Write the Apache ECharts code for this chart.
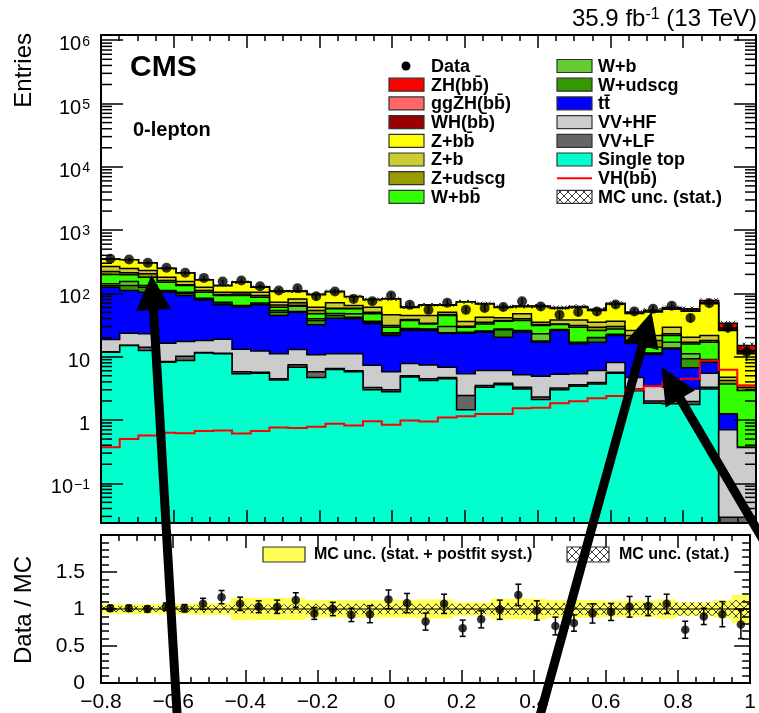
<!DOCTYPE html>
<html>
<head>
<meta charset="utf-8">
<script src="https://cdn.jsdelivr.net/npm/echarts@6/dist/echarts.min.js"></script>
<style>
  html, body { margin: 0; padding: 0; background: #fff; }
  #chart { width: 759px; height: 713px; }
</style>
</head>
<body>
<div id="chart"></div>
<script>
// ---- binning of the discriminant ----
const xMin = -0.8, xMax = 1.0, nBins = 35;
const binWidth = (xMax - xMin) / nBins;
const binEdges = Array.from({ length: nBins + 1 }, (_, i) => xMin + i * binWidth);
const binCenters = binEdges.slice(0, nBins).map(e => e + binWidth / 2);

// ---- expected yields per bin (stacked from bottom to top) ----
const singleTop = [11.8, 15.0, 12.5, 8.2, 8.7, 11.5, 11.1, 5.4, 5.5, 4.3, 6.8, 4.7, 6.3, 5.8, 3.0, 2.8, 4.8, 4.2, 4.5, 1.45, 3.3, 3.6, 3.1, 2.1, 3.0, 3.4, 3.7, 5.5, 2.9, 1.84, 1.8, 1.76, 3.1, 0, 0];
const vvLF = [0.2, 0.2, 1.6, 0.2, 1.5, 0.2, 0.2, 0.4, 0.2, 0.2, 0.7, 1.1, 0.2, 0.2, 0.25, 0.2, 0.2, 0.3, 0.2, 0.99, 0.2, 0.2, 0.2, 0.2, 0.2, 0.2, 0.2, 0.2, 0.2, 0.16, 0.2, 0.2, 0.2, 0.029, 0.029];
const vvHF = [6.7, 8.3, 8.9, 7.9, 7.2, 6.3, 7.6, 7.3, 6.6, 6.6, 5.5, 4.9, 4.6, 5.1, 4.05, 2.8, 2.8, 2.9, 2.1, 2.96, 2.55, 2.25, 1.9, 2.6, 2.1, 1.8, 2.15, 2.4, 1.6, 1.4, 1.3, 1.14, 2.2, 0.67, 0.34];
const ttbar = [106, 87.5, 81, 87.7, 75.3, 61, 47.1, 47.9, 53.7, 33.7, 37.5, 21.2, 29.5, 28.6, 25.8, 15.8, 18.1, 18.5, 16.5, 18.1, 18.35, 14.25, 19.2, 12, 20.6, 10.6, 10.85, 13.5, 11.5, 7.4, 10, 3.6, 2.7, 0.55, 0];
const wUdscg = [8, 22, 21, 5, 6.9, 2, 4.5, 2, 1.6, 5.7, 1.3, 5.4, 4.2, 2.4, 1.6, 1.2, 0.9, 0.9, 0.7, 0.4, 0.6, 6.3, 1, 0.8, 0.5, 0.4, 3, 0.4, 0.3, 0.4, 0.4, 2.55, 0.5, 0, 0];
const wB = [10, 21, 8, 2, 4.4, 3, 2, 1.4, 2.9, 3.2, 11, 2.4, 3.3, 5.5, 1.6, 1.1, 1.1, 0.5, 6, 0.5, 0.5, 0.7, 0.5, 5.4, 0.4, 0.5, 0.3, 0.6, 0.4, 0.2, 3.2, 1.85, 0.3, 0, 0];
const wBB = [56, 43, 47, 39, 29, 20, 20.2, 28.3, 16.5, 6.8, 1.6, 7.9, 9, 9.5, 11.3, 5.3, 9.4, 5.7, 14.8, 4.8, 7.5, 9, 11.4, 8, 5.4, 12.3, 5.7, 4.9, 1.1, 2.7, 4.7, 4.8, 7.9, 2.47, 2.55];
const zUdscg = [23, 15, 24, 10, 4, 7, 3.3, 5.3, 5.7, 5, 7.1, 6.1, 1.4, 1.4, 2.9, 1.9, 1.4, 0.7, 1.6, 1.1, 2, 1, 2.4, 1.1, 0.8, 1.9, 3.3, 2.5, 3.6, 3.9, 1.4, 1.1, 1.1, 0.48, 0.34];
const zB = [44, 35, 26, 20, 17, 14, 8, 6, 11.3, 7, 10.5, 6.8, 12.5, 5.9, 10, 14.8, 6.1, 11.1, 4.1, 5.7, 7, 3.8, 7.9, 2.8, 5.2, 7.1, 5.8, 6.3, 4.3, 3.6, 6.2, 3.3, 3.6, 0.54, 0.24];
const zBB = [81.6, 92.6, 73.6, 66.6, 55.6, 38.6, 28.6, 45.6, 21.6, 35.1, 25.6, 35.1, 35.5, 24.1, 19, 35.6, 15.2, 20.2, 14.5, 37, 26, 18.9, 13.9, 26.5, 19.8, 21.8, 18.8, 31.3, 22.1, 29.4, 26.8, 32.2, 46.9, 21.2, 7.6];
const whBB = [0.09, 0.11, 0.13, 0.14, 0.15, 0.15, 0.16, 0.14, 0.15, 0.18, 0.17, 0.18, 0.20, 0.19, 0.22, 0.19, 0.22, 0.22, 0.25, 0.26, 0.29, 0.29, 0.36, 0.36, 0.42, 0.45, 0.51, 0.55, 0.69, 0.78, 0.91, 1.03, 2.0, 1.8, 0.9];
const ggZhBB = [0.04, 0.06, 0.07, 0.08, 0.07, 0.08, 0.08, 0.07, 0.08, 0.09, 0.09, 0.09, 0.10, 0.10, 0.12, 0.10, 0.12, 0.11, 0.13, 0.14, 0.15, 0.15, 0.18, 0.19, 0.22, 0.24, 0.26, 0.29, 0.36, 0.41, 0.47, 0.54, 1.0, 1.0, 0.5];
const zhBB = [0.24, 0.33, 0.37, 0.41, 0.40, 0.44, 0.44, 0.40, 0.44, 0.49, 0.49, 0.51, 0.57, 0.53, 0.62, 0.55, 0.64, 0.62, 0.72, 0.75, 0.81, 0.81, 1.0, 1.01, 1.2, 1.29, 1.43, 1.56, 1.95, 2.21, 2.57, 2.93, 5.7, 5.1, 2.5];

// signal shown as a separate line
const vhLine = [0.37, 0.50, 0.57, 0.63, 0.62, 0.67, 0.68, 0.61, 0.67, 0.76, 0.75, 0.78, 0.87, 0.82, 0.96, 0.84, 0.98, 0.95, 1.1, 1.15, 1.25, 1.25, 1.54, 1.56, 1.84, 1.98, 2.2, 2.4, 3.0, 3.4, 3.95, 4.5, 8.7, 6.2, 3.5];

// observed events and their uncertainties
const dataCounts = [352, 343, 304, 254, 212, 176, 154, 160, 130, 111, 121, 90, 107, 82, 75, 93, 66, 55, 71, 55, 59, 61, 75, 62, 46, 51, 52, 67, 52, 57, 64, 41, 70, 29, 12];
const dataErrors = [18.8, 18.5, 17.4, 15.9, 14.6, 13.3, 12.4, 12.6, 11.4, 10.5, 11, 9.5, 10.3, 9.1, 8.7, 9.6, 8.1, 7.4, 8.4, 7.4, 7.7, 7.8, 8.7, 7.9, 6.8, 7.1, 7.2, 8.2, 7.2, 7.5, 8, 6.4, 8.4, 5.4, 3.5];

// ratio panel
const ratio = [1.01, 1.01, 1.0, 1.03, 1.01, 1.07, 1.16, 1.07, 1.03, 1.03, 1.12, 0.94, 1.0, 0.92, 0.93, 1.13, 1.08, 0.83, 1.07, 0.74, 0.86, 0.99, 1.19, 0.98, 0.77, 0.81, 0.94, 0.96, 1.03, 1.04, 1.07, 0.72, 0.90, 0.93, 0.79];
const ratioErrors = [0.04, 0.04, 0.04, 0.05, 0.05, 0.075, 0.09, 0.09, 0.08, 0.09, 0.1, 0.08, 0.09, 0.09, 0.115, 0.127, 0.13, 0.115, 0.13, 0.11, 0.115, 0.13, 0.145, 0.13, 0.12, 0.11, 0.13, 0.115, 0.14, 0.13, 0.13, 0.115, 0.11, 0.17, 0.19];
const mcSystUnc = [0.07, 0.07, 0.07, 0.07, 0.07, 0.08, 0.08, 0.15, 0.15, 0.15, 0.15, 0.12, 0.12, 0.12, 0.12, 0.12, 0.12, 0.13, 0.13, 0.09, 0.09, 0.14, 0.14, 0.14, 0.12, 0.12, 0.12, 0.11, 0.11, 0.11, 0.13, 0.09, 0.09, 0.12, 0.19];
const mcStatUnc = [0.04, 0.04, 0.04, 0.04, 0.04, 0.05, 0.05, 0.06, 0.06, 0.06, 0.06, 0.07, 0.07, 0.07, 0.07, 0.07, 0.07, 0.07, 0.07, 0.07, 0.07, 0.08, 0.08, 0.08, 0.08, 0.08, 0.08, 0.08, 0.08, 0.08, 0.08, 0.09, 0.09, 0.09, 0.12];

// axis ranges
const yMin = 0.0236, yMax = 1.21e6;
const ratioMin = 0, ratioMax = 2;

const processes = [
  { name: 'Single top', color: '#00ffcc', values: singleTop },
  { name: 'VV+LF', color: '#666666', values: vvLF },
  { name: 'VV+HF', color: '#cccccc', values: vvHF },
  { name: 'tt\u0304', color: '#0000ff', values: ttbar },
  { name: 'W+udscg', color: '#339900', values: wUdscg },
  { name: 'W+b', color: '#66cc33', values: wB },
  { name: 'W+bb\u0304', color: '#33ff00', values: wBB },
  { name: 'Z+udscg', color: '#999900', values: zUdscg },
  { name: 'Z+b', color: '#cccc33', values: zB },
  { name: 'Z+bb\u0304', color: '#ffff00', values: zBB },
  { name: 'WH(bb\u0304)', color: '#990000', values: whBB },
  { name: 'ggZH(bb\u0304)', color: '#ff6666', values: ggZhBB },
  { name: 'ZH(bb\u0304)', color: '#ff0000', values: zhBB }
];

// running sums of the stack
const cumulative = [];
processes.forEach((p, i) => {
  cumulative.push(p.values.map((v, k) => v + (i ? cumulative[i - 1][k] : 0)));
});
const mcTotal = cumulative[cumulative.length - 1];

const FONT = '"Liberation Sans", Arial, Helvetica, sans-serif';

function clampY(v) { return Math.min(Math.max(v, yMin), yMax); }

function crossHatch() {
  const c = document.createElement('canvas');
  c.width = 8; c.height = 8;
  const g = c.getContext('2d');
  g.strokeStyle = '#222';
  g.lineWidth = 0.9;
  g.beginPath();
  g.moveTo(0, 0); g.lineTo(8, 8);
  g.moveTo(8, 0); g.lineTo(0, 8);
  g.stroke();
  return { image: c, repeat: 'repeat' };
}
const hatchFill = crossHatch();

// one filled step histogram per process, drawn top-down so each lower one covers the rest
function stackLayer(idx) {
  const p = processes[idx];
  return {
    type: 'custom', name: p.name, xAxisIndex: 0, yAxisIndex: 0, z: 2, silent: true,
    data: [[xMin, 1]],
    renderItem: (params, api) => {
      const top = cumulative[idx];
      const pts = [api.coord([xMin, yMin])];
      const outline = [];
      for (let k = 0; k < nBins; k++) {
        const v = clampY(top[k]);
        const a = api.coord([binEdges[k], v]);
        const b = api.coord([binEdges[k + 1], v]);
        pts.push(a, b);
        outline.push(a, b);
      }
      pts.push(api.coord([xMax, yMin]));
      return {
        type: 'group',
        children: [
          { type: 'polygon', shape: { points: pts }, style: { fill: p.color, stroke: null } },
          { type: 'polyline', shape: { points: outline }, style: { stroke: '#000', lineWidth: 1.5, fill: null } }
        ]
      };
    }
  };
}

const series = [];
for (let i = processes.length - 1; i >= 0; i--) series.push(stackLayer(i));

// MC statistical uncertainty on top of the stack
series.push({
  type: 'custom', name: 'MC unc. (stat.)', xAxisIndex: 0, yAxisIndex: 0, z: 3, silent: true,
  data: binCenters.map((c, k) => [k, mcTotal[k]]),
  renderItem: (params, api) => {
    const k = api.value(0);
    const hi = api.coord([binEdges[k + 1], clampY(mcTotal[k] * (1 + mcStatUnc[k]))]);
    const lo = api.coord([binEdges[k], clampY(mcTotal[k] * (1 - mcStatUnc[k]))]);
    return { type: 'rect', shape: { x: lo[0], y: hi[1], width: hi[0] - lo[0], height: lo[1] - hi[1] },
      style: { fill: hatchFill, stroke: null } };
  },
  encode: { x: 0, y: 1 }
});

// signal line
series.push({
  type: 'custom', name: 'VH(bb\u0304)', xAxisIndex: 0, yAxisIndex: 0, z: 4, silent: true,
  data: [[xMin, 1]],
  renderItem: (params, api) => {
    const pts = [];
    for (let k = 0; k < nBins; k++) {
      pts.push(api.coord([binEdges[k], clampY(vhLine[k])]), api.coord([binEdges[k + 1], clampY(vhLine[k])]));
    }
    return { type: 'polyline', shape: { points: pts }, style: { stroke: '#ff0000', lineWidth: 2, fill: null } };
  }
});

// data error bars and markers
series.push({
  type: 'custom', name: 'Data errors', xAxisIndex: 0, yAxisIndex: 0, z: 5, silent: true,
  data: binCenters.map((c, k) => [c, dataCounts[k], dataErrors[k]]),
  renderItem: (params, api) => {
    const c = api.value(0), v = api.value(1), e = api.value(2);
    const a = api.coord([c, clampY(v - e)]), b = api.coord([c, clampY(v + e)]);
    return { type: 'line', shape: { x1: a[0], y1: a[1], x2: b[0], y2: b[1] }, style: { stroke: '#000', lineWidth: 1.5 } };
  }
});
series.push({
  type: 'scatter', name: 'Data', xAxisIndex: 0, yAxisIndex: 0, z: 6, silent: true,
  symbol: 'circle', symbolSize: 10, itemStyle: { color: '#000' },
  data: binCenters.map((c, k) => [c, dataCounts[k]])
});

// minor ticks of the logarithmic axis (2..9 x 10^n), both sides
const logMinorTicks = [];
for (let n = -2; n <= 6; n++) {
  for (let m = 2; m <= 9; m++) {
    const v = m * Math.pow(10, n);
    if (v > yMin && v < yMax) logMinorTicks.push(v);
  }
}
series.push({
  type: 'custom', name: 'log minor ticks', xAxisIndex: 0, yAxisIndex: 0, z: 9, silent: true,
  data: logMinorTicks.map(v => [xMin, v]),
  renderItem: (params, api) => {
    const l = api.coord([xMin, api.value(1)]);
    const r = api.coord([xMax, api.value(1)]);
    return { type: 'group', children: [
      { type: 'line', shape: { x1: l[0], y1: l[1], x2: l[0] + 11, y2: l[1] }, style: { stroke: '#000', lineWidth: 1.5 } },
      { type: 'line', shape: { x1: r[0], y1: r[1], x2: r[0] - 11, y2: r[1] }, style: { stroke: '#000', lineWidth: 1.5 } }
    ] };
  }
});

// ---- ratio panel ----
function ratioBand(name, unc, fill, z) {
  return {
    type: 'custom', name, xAxisIndex: 2, yAxisIndex: 2, z, silent: true,
    data: binCenters.map((c, k) => [k, 1]),
    renderItem: (params, api) => {
      const k = api.value(0);
      const hi = api.coord([binEdges[k + 1], 1 + unc[k]]);
      const lo = api.coord([binEdges[k], 1 - unc[k]]);
      return { type: 'rect', shape: { x: lo[0], y: hi[1], width: hi[0] - lo[0], height: lo[1] - hi[1] },
        style: { fill, stroke: null } };
    },
    encode: { x: 0, y: 1 }
  };
}
series.push(ratioBand('MC unc. (stat. + postfit syst.)', mcSystUnc, '#ffff55', 2));
series.push(ratioBand('MC unc. (stat.) ratio', mcStatUnc, hatchFill, 3));
series.push({
  type: 'custom', name: 'unity', xAxisIndex: 2, yAxisIndex: 2, z: 4, silent: true,
  data: [[xMin, 1]],
  renderItem: (params, api) => {
    const a = api.coord([xMin, 1]), b = api.coord([xMax, 1]);
    return { type: 'line', shape: { x1: a[0], y1: a[1], x2: b[0], y2: b[1] }, style: { stroke: '#000', lineWidth: 1 } };
  }
});
series.push({
  type: 'custom', name: 'Ratio errors', xAxisIndex: 2, yAxisIndex: 2, z: 5, silent: true,
  data: binCenters.map((c, k) => [c, ratio[k], ratioErrors[k]]),
  renderItem: (params, api) => {
    const c = api.value(0), v = api.value(1), e = api.value(2);
    const a = api.coord([c, v - e]), b = api.coord([c, v + e]);
    const cap = 3;
    const st = { stroke: '#000', lineWidth: 1.5 };
    return { type: 'group', children: [
      { type: 'line', shape: { x1: a[0], y1: a[1], x2: b[0], y2: b[1] }, style: st },
      { type: 'line', shape: { x1: a[0] - cap, y1: a[1], x2: a[0] + cap, y2: a[1] }, style: st },
      { type: 'line', shape: { x1: b[0] - cap, y1: b[1], x2: b[0] + cap, y2: b[1] }, style: st }
    ] };
  }
});
series.push({
  type: 'scatter', name: 'Ratio', xAxisIndex: 2, yAxisIndex: 2, z: 6, silent: true,
  symbol: 'circle', symbolSize: 8.5, itemStyle: { color: '#000' },
  data: binCenters.map((c, k) => [c, ratio[k]])
});

// ---- axes ----
const frameLine = { show: true, onZero: false, lineStyle: { color: '#000', width: 2 } };
function xAxisDef(gridIndex, position, showLabels) {
  return {
    type: 'value', gridIndex, position, min: xMin, max: xMax, interval: 0.2, z: 10,
    axisLine: frameLine,
    axisTick: { show: true, inside: true, length: 13, lineStyle: { color: '#000', width: 1.5 } },
    minorTick: { show: true, splitNumber: 4, length: 6, lineStyle: { color: '#000', width: 1.5 } },
    splitLine: { show: false }, minorSplitLine: { show: false },
    axisLabel: showLabels ? {
      show: true, margin: 9, fontSize: 21, fontFamily: FONT, color: '#000', interval: 0, hideOverlap: false,
      formatter: v => {
        const r = Math.round(v * 10) / 10;
        if (r === 0) return '0';
        if (r === 1) return '1';
        return (r < 0 ? '\u2212' : '') + Math.abs(r).toFixed(1);
      }
    } : { show: false }
  };
}
function logAxisDef(position, showLabels) {
  return {
    type: 'log', logBase: 10, gridIndex: 0, position, min: yMin, max: yMax, z: 10,
    axisLine: frameLine,
    axisTick: { show: true, inside: true, length: 22, lineStyle: { color: '#000', width: 1.5 } },
    splitLine: { show: false },
    axisLabel: showLabels ? {
      show: true, margin: 11, padding: [9, 0, 0, 0], showMinLabel: false, showMaxLabel: false,
      formatter: v => {
        const e = Math.round(Math.log10(v));
        if (e === 0) return '{b|1}';
        if (e === 1) return '{b|10}';
        return '{b|10}{s|' + (e < 0 ? '\u2212' + (-e) : e) + '}';
      },
      rich: {
        b: { fontSize: 20, fontFamily: FONT, color: '#000', lineHeight: 20, verticalAlign: 'bottom' },
        s: { fontSize: 14, fontFamily: FONT, color: '#000', lineHeight: 14, verticalAlign: 'top', padding: [0, 0, 10, 1] }
      }
    } : { show: false }
  };
}
function ratioAxisDef(position, showLabels) {
  return {
    type: 'value', gridIndex: 1, position, min: ratioMin, max: ratioMax, interval: 0.5, z: 10,
    axisLine: frameLine,
    axisTick: { show: true, inside: true, length: 16, lineStyle: { color: '#000', width: 1.5 } },
    minorTick: { show: true, splitNumber: 5, length: 8, lineStyle: { color: '#000', width: 1.5 } },
    splitLine: { show: false }, minorSplitLine: { show: false },
    axisLabel: showLabels ? {
      show: true, margin: 16, fontSize: 21, fontFamily: FONT, color: '#000', showMaxLabel: false,
      formatter: v => String(v)
    } : { show: false }
  };
}

// ---- annotations: legend, titles, arrows ----
const graphics = [];
function txt(x, y, text, opts) {
  graphics.push(Object.assign({ type: 'text', x, y, z: 50, silent: true,
    style: Object.assign({ text, fill: '#000', fontFamily: FONT, fontSize: 18, fontWeight: 'bold',
      align: 'left', verticalAlign: 'middle' }, opts && opts.style) }, opts && opts.el));
}

// stack legend, two columns
const legendRowY = i => 66 + 18.7 * i;
const legendCols = [{ box: 389, text: 431 }, { box: 557, text: 598 }];
const byName = name => processes.find(p => p.name === name);
const legendEntries = [
  [{ kind: 'marker', label: 'Data' }, { kind: 'box', label: 'ZH(bb\u0304)' }, { kind: 'box', label: 'ggZH(bb\u0304)' },
   { kind: 'box', label: 'WH(bb\u0304)' }, { kind: 'box', label: 'Z+bb\u0304' }, { kind: 'box', label: 'Z+b' },
   { kind: 'box', label: 'Z+udscg' }, { kind: 'box', label: 'W+bb\u0304' }],
  [{ kind: 'box', label: 'W+b' }, { kind: 'box', label: 'W+udscg' }, { kind: 'box', label: 'tt\u0304' },
   { kind: 'box', label: 'VV+HF' }, { kind: 'box', label: 'VV+LF' }, { kind: 'box', label: 'Single top' },
   { kind: 'line', label: 'VH(bb\u0304)' }, { kind: 'hatch', label: 'MC unc. (stat.)' }]
];
legendEntries.forEach((col, ci) => {
  col.forEach((entry, ri) => {
    const y = legendRowY(ri);
    const bx = legendCols[ci].box;
    if (entry.kind === 'marker') {
      graphics.push({ type: 'circle', z: 50, silent: true, shape: { cx: bx + 17, cy: y, r: 4.5 }, style: { fill: '#000' } });
    } else if (entry.kind === 'line') {
      graphics.push({ type: 'line', z: 50, silent: true, shape: { x1: bx, y1: y, x2: bx + 35, y2: y }, style: { stroke: '#ff0000', lineWidth: 2 } });
    } else {
      const fill = entry.kind === 'hatch' ? hatchFill : byName(entry.label).color;
      graphics.push({ type: 'rect', z: 50, silent: true, shape: { x: bx, y: y - 6.5, width: 35, height: 13 },
        style: { fill, stroke: '#333', lineWidth: 1.2 } });
    }
    txt(legendCols[ci].text, y + 1, entry.label);
  });
});

// ratio legend
graphics.push({ type: 'rect', z: 50, silent: true, shape: { x: 263, y: 547, width: 42, height: 15 }, style: { fill: '#ffff55', stroke: '#333', lineWidth: 1.2 } });
txt(314, 555, 'MC unc. (stat. + postfit syst.)', { style: { fontSize: 16 } });
graphics.push({ type: 'rect', z: 50, silent: true, shape: { x: 567, y: 547, width: 42, height: 15 }, style: { fill: hatchFill, stroke: '#333', lineWidth: 1.2 } });
txt(619, 555, 'MC unc. (stat.)', { style: { fontSize: 16 } });

// headline texts
txt(130, 68, 'CMS', { style: { fontSize: 30 } });
txt(133, 130, '0-lepton', { style: { fontSize: 20 } });
graphics.push({ type: 'text', x: 757, y: 19, z: 50, silent: true,
  style: { text: '{a|35.9 fb}{s|-1}{a| (13 TeV)}', align: 'right', verticalAlign: 'middle',
    rich: { a: { fontSize: 24, fontFamily: FONT, color: '#000', lineHeight: 24, verticalAlign: 'bottom' },
            s: { fontSize: 16, fontFamily: FONT, color: '#000', lineHeight: 16, verticalAlign: 'top', padding: [0, 0, 8, 0] } } } });
txt(24, 33, 'Entries', { style: { fontSize: 24, fontWeight: 'normal', align: 'right' }, el: { rotation: Math.PI / 2 } });
txt(24, 610, 'Data / MC', { style: { fontSize: 24, fontWeight: 'normal', align: 'center' }, el: { rotation: Math.PI / 2 } });

// pointer arrows
function arrow(tail, tip, shaftW, headL, headW) {
  const dx = tip[0] - tail[0], dy = tip[1] - tail[1];
  const len = Math.hypot(dx, dy);
  const ux = dx / len, uy = dy / len, nx = -uy, ny = ux;
  const bx = tip[0] - ux * headL, by = tip[1] - uy * headL;
  const pts = [
    [tail[0] + nx * shaftW / 2, tail[1] + ny * shaftW / 2],
    [bx + nx * shaftW / 2, by + ny * shaftW / 2],
    [bx + nx * headW / 2, by + ny * headW / 2],
    tip,
    [bx - nx * headW / 2, by - ny * headW / 2],
    [bx - nx * shaftW / 2, by - ny * shaftW / 2],
    [tail[0] - nx * shaftW / 2, tail[1] - ny * shaftW / 2]
  ];
  graphics.push({ type: 'polygon', z: 100, silent: true, shape: { points: pts }, style: { fill: '#000' } });
}
arrow([178, 730], [151.5, 275], 9, 35, 35);
arrow([536, 730], [651.5, 312], 9, 35, 34);
arrow([775, 560], [661.5, 367], 9, 37, 34);

const option = {
  animation: false,
  backgroundColor: '#fff',
  grid: [
    { left: 101, top: 35, width: 655, height: 488, show: false },
    { left: 101, top: 535, width: 655, height: 151, show: false }
  ],
  xAxis: [xAxisDef(0, 'bottom', false), xAxisDef(0, 'top', false), xAxisDef(1, 'bottom', true), xAxisDef(1, 'top', false)],
  yAxis: [logAxisDef('left', true), logAxisDef('right', false), ratioAxisDef('left', true), ratioAxisDef('right', false)],
  series,
  graphic: { elements: graphics }
};

const chart = echarts.init(document.getElementById('chart'), null, { renderer: 'canvas' });
chart.setOption(option);
</script>
</body>
</html>
